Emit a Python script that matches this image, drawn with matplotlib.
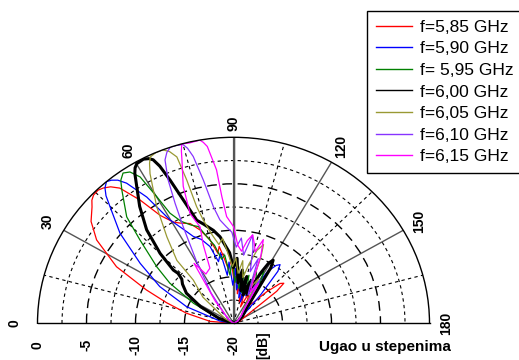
import numpy as np
import matplotlib.pyplot as plt
from matplotlib.transforms import offset_copy

plt.rcParams['font.family'] = ['Liberation Sans', 'DejaVu Sans']

# angle in degrees (0 = left, 180 = right), level in dB
ang_585 = [0, 5, 12.7, 18, 22, 27, 32.7, 37, 40.9, 42.5, 44, 46, 47.6, 49.5, 51.4, 54.3, 57.2, 60.6, 63, 67.6,
           71.2, 75, 78, 80, 82, 85, 88, 91, 94, 97, 100, 104, 108, 112, 116, 120, 124, 128, 132, 135,
           138, 140, 142, 145, 150, 160, 170, 180]
db_585 = [-20, -17.6, -15.1, -12.8, -10.4, -6.6, -3.4, -1.8, -0.9, -0.4, -0.15, -0.1, -0.3, -0.7, -1.4, -3.7, -6.2, -7.5, -7.9, -8.4,
          -9.4, -10.7, -12.3, -11.6, -12.8, -14.2, -13.1, -15.6, -14.4, -16.8, -15.2, -17.6, -15.8, -18.1, -16.3, -17.2, -15.4, -17.6, -17.0, -15.2,
          -13.6, -13.3, -14.4, -17.6, -18.8, -19.3, -19.7, -20]

ang_590 = [0, 10, 20.4, 27.7, 34.1, 39.9, 44.9, 46.5, 48, 49.6, 51, 52.5, 54.1, 56.9, 59.7, 63, 66.3, 70, 73.8, 77,
           80, 83, 86, 89, 92, 95, 98, 101, 104, 107, 110, 113, 116, 119, 122, 125, 127, 129, 132, 136,
           145, 160, 180]
db_590 = [-20, -18.6, -14.9, -11.5, -8.5, -4.9, -2.2, -1.1, -0.4, 0, -0.2, -0.6, -1.4, -3.8, -7.1, -8.6, -9.8, -10.4, -11.4, -13.2,
          -12.3, -14.8, -13.4, -15.9, -14.1, -16.4, -14.8, -17.2, -15.5, -17.6, -15.2, -16.8, -14.6, -15.8, -13.4, -12.4, -12.1, -12.8, -15.8, -18.2,
          -19, -19.6, -20]

ang_595 = [0, 15, 27.8, 33.6, 37.8, 43.2, 46.4, 51.5, 53.2, 55.1, 57, 58.8, 60.1, 61.3, 64, 67.8, 71, 74, 77, 80,
           83, 86, 89, 92, 95, 98, 101, 104, 107, 110, 113, 116, 119, 122, 125, 130, 140, 155, 180]
db_595 = [-20, -18.8, -15.4, -12.2, -10.1, -6.9, -4.2, -1.7, -0.8, -0.3, -0.6, -1.6, -4.3, -6.5, -7.8, -8.6, -9.0, -10.4, -11.4, -13.0,
          -12.6, -14.8, -13.2, -15.6, -13.9, -16.2, -14.4, -16.6, -14.6, -16.0, -14.0, -14.8, -13.6, -14.9, -16.8, -17.8, -18.7, -19.5, -20]

ang_600 = [0, 20, 28, 34, 39, 42, 43.5, 43, 45.1, 48.6, 52.7, 58, 59, 60.1, 62.5, 64, 65, 66, 67.2, 68.9,
           71.3, 74, 78.4, 81.6, 84, 87, 90, 93, 96, 99, 102, 105, 108, 111, 114, 117, 119, 120.8, 122.5, 125,
           130, 140, 155, 180]
db_600 = [-20, -18.4, -16.2, -14.2, -13.3, -12.9, -12.2, -11.6, -9.4, -6.6, -4.2, -1.0, -0.5, -0.2, -0.1, -0.3, -0.6, -1.5, -3.3, -5.8,
          -8.3, -8.9, -9.8, -10.6, -11.5, -12.4, -14.0, -13.0, -15.6, -14.2, -16.4, -14.8, -16.8, -15.2, -16.6, -14.0, -12.6, -12.1, -12.9, -16.2,
          -18.0, -18.8, -19.5, -20]

ang_605 = [0, 30, 42, 48.6, 49.5, 53.8, 58, 62.1, 63.5, 64.6, 66.7, 68.8, 70.5, 72.1, 72.8, 73.3, 74.5, 77, 80, 83,
           86, 89, 92, 95, 98, 101, 104, 107, 109.9, 111.5, 114, 118, 121, 125, 135, 150, 180]
db_605 = [-20, -19, -15.8, -13.8, -11.1, -8.5, -5.2, -1.8, -0.8, -0.2, 0, 0, -0.4, -1.2, -3.9, -6.9, -8.5, -10.2, -11.4, -10.8,
          -12.6, -13.9, -13.0, -14.6, -13.2, -15.0, -13.4, -11.8, -11.0, -12.4, -15.8, -14.6, -17.2, -18.2, -18.9, -19.5, -20]

ang_610 = [0, 40, 55, 60.4, 63.7, 65.2, 66.6, 68.3, 69.7, 71.2, 73, 75, 76, 77.1, 78.7, 80.7, 82.9, 86, 89, 92,
           95, 98, 101.6, 104, 107, 110, 113, 116, 120, 125, 135, 150, 180]
db_610 = [-20, -19.2, -16.0, -12.4, -8.4, -5.8, -3.2, -1.1, -0.4, 0, 0, -0.1, -0.6, -1.6, -4.3, -7.3, -8.8, -9.6, -10.2, -11.8,
          -10.8, -12.6, -10.3, -11.8, -14.2, -12.6, -15.6, -16.6, -14.6, -18.0, -18.9, -19.5, -20]

ang_615 = [0, 40, 52, 58, 62, 67.9, 69.9, 71.8, 69.4, 70.8, 73.3, 74, 74.7, 77, 80.1, 81, 82, 84, 85, 86.5,
           90, 93, 96, 99, 101.6, 104, 106, 108.7, 111, 114, 117, 121, 126, 135, 150, 180]
db_615 = [-20, -19.4, -17.0, -12.4, -14.0, -13.6, -11.0, -9.1, -7.4, -4.4, -1.7, -0.7, 0, -0.1, 0, -0.3, -0.8, -3.4, -6.3, -8.5,
          -9.6, -11.6, -12.2, -11.0, -10.3, -11.2, -12.0, -10.5, -12.2, -15.2, -16.2, -15.0, -18.2, -19.0, -19.5, -20]

series = [
    (ang_585, db_585, 'f=5,85 GHz', '#ff0000', 0.9),
    (ang_590, db_590, 'f=5,90 GHz', '#0000ff', 0.9),
    (ang_595, db_595, 'f= 5,95 GHz', '#008000', 0.9),
    (ang_600, db_600, 'f=6,00 GHz', '#000000', 2.2),
    (ang_605, db_605, 'f=6,05 GHz', '#999933', 0.9),
    (ang_610, db_610, 'f=6,10 GHz', '#8833ff', 0.9),
    (ang_615, db_615, 'f=6,15 GHz', '#ff00ff', 0.9),
]

angle_labels = ['0', '30', '60', '90', '120', '150', '180']
angle_label_r = [2.3, 1.9, 1.5, 1.5, 2.0, 1.9, 1.65]
radial_ticks = [0, -5, -10, -15, -20]

fig = plt.figure(figsize=(5.19, 3.6), dpi=100)
# half disc: centre at (233.5, 323.3) px, radius 196 px across, 186 px up;
# the wedge fills the middle half of the box in height when aspect is auto
ax = fig.add_axes([37.5 / 519, -56.3 / 360, 392 / 519, 372 / 360], projection='polar')
ax.set_aspect('auto')
ax.set_theta_zero_location('W')
ax.set_theta_direction(-1)
ax.set_thetamin(0)
ax.set_thetamax(180)
ax.set_rlim(-20, 0)
ax.set_axisbelow(True)

# grid
ax.set_xticks(np.deg2rad([30, 60, 90, 120, 150]))
ax.set_xticks(np.deg2rad([15, 45, 75, 105, 135, 165]), minor=True)
ax.set_yticks([-15, -10, -5])
ax.set_yticks([-17.5, -12.5, -7.5, -2.5], minor=True)
ax.set_xticklabels([])
ax.set_yticklabels([])
ax.tick_params(which='both', length=0)
ax.xaxis.grid(True, which='major', color='#555555', lw=1, ls='-')
ax.xaxis.grid(True, which='minor', color='black', lw=0.8, ls=(0, (3, 3)))
ax.yaxis.grid(True, which='major', color='black', lw=1, ls=(0, (7, 4)))
ax.yaxis.grid(True, which='minor', color='black', lw=0.8, ls=(0, (3, 3)))
ax.plot([np.pi / 2, np.pi / 2], [-20, 0], color='#555555', lw=1.6, zorder=1)
for sp in ax.spines.values():
    sp.set_color('black')
    sp.set_linewidth(1)

for ang, db, lab, col, lw in series:
    ax.plot(np.deg2rad(ang), db, color=col, lw=lw, label=lab)

# angle labels around the arc
for lab, a, r in zip(angle_labels, range(0, 181, 30), angle_label_r):
    ax.text(np.deg2rad(a), r, lab, rotation=90, ha='center', va='center',
            fontsize=10, fontweight='bold')

# radial labels under the left baseline
tr = offset_copy(ax.transData, fig=fig, x=0, y=-22, units='dots')
for r in radial_ticks:
    ax.text(0, r, str(r), transform=tr, rotation=90, ha='center', va='center',
            fontsize=10, fontweight='bold')
fig.text(263.3 / 519, 1 - 345 / 360, '[dB]', rotation=90, ha='center', va='center',
         fontsize=10, fontweight='bold')
fig.text(385 / 519, 1 - 347 / 360, 'Ugao u stepenima', ha='center', va='center',
         fontsize=11, fontweight='bold')

leg = fig.legend(loc='upper left', bbox_to_anchor=(367 / 519, 1 - 11 / 360), fancybox=False,
                 edgecolor='black', framealpha=1, fontsize=12.5, handlelength=2.1,
                 handletextpad=0.45, labelspacing=0.37, borderpad=0.5, borderaxespad=0)
leg.get_frame().set_linewidth(1)
for h in leg.get_lines():
    h.set_linewidth(1)

fig.savefig('out.png', dpi=100)
